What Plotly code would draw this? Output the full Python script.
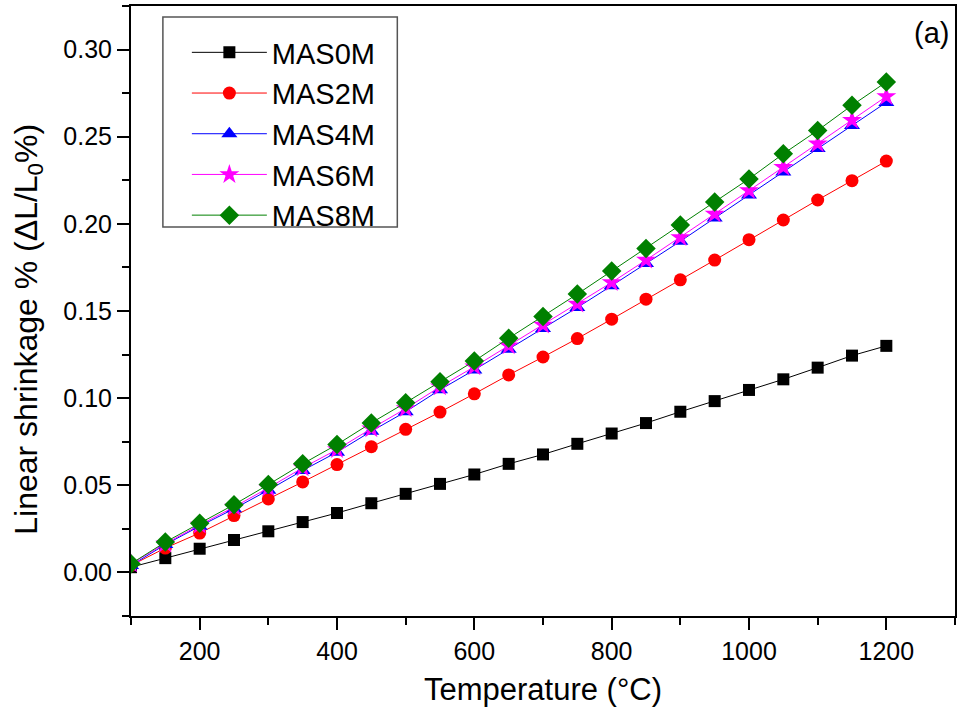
import plotly.graph_objects as go

temperature = [100, 150, 200, 250, 300, 350, 400, 450, 500, 550, 600, 650,
               700, 750, 800, 850, 900, 950, 1000, 1050, 1100, 1150, 1200]

mas0m = [0.003, 0.0082, 0.0136, 0.0186, 0.0236, 0.0289, 0.0341, 0.0397, 0.0451, 0.0508,
         0.0562, 0.0623, 0.0677, 0.0738, 0.0797, 0.0857, 0.0922, 0.0983, 0.1047, 0.1108,
         0.1175, 0.1244, 0.1300]
mas2m = [0.004, 0.0140, 0.0226, 0.0326, 0.0422, 0.0519, 0.0619, 0.0721, 0.0821, 0.0920,
         0.1025, 0.1133, 0.1236, 0.1342, 0.1453, 0.1568, 0.1679, 0.1792, 0.1909, 0.2022,
         0.2137, 0.2248, 0.2360]
mas4m = [0.004, 0.0160, 0.0265, 0.0365, 0.0472, 0.0585, 0.0690, 0.0810, 0.0922, 0.1048,
         0.1162, 0.1280, 0.1400, 0.1520, 0.1645, 0.1772, 0.1900, 0.2033, 0.2165, 0.2298,
         0.2432, 0.2565, 0.2697]
mas6m = [0.005, 0.0165, 0.0272, 0.0375, 0.0485, 0.0600, 0.0705, 0.0825, 0.0940, 0.1065,
         0.1180, 0.1300, 0.1420, 0.1540, 0.1664, 0.1792, 0.1922, 0.2057, 0.2191, 0.2325,
         0.2459, 0.2594, 0.2731]
mas8m = [0.005, 0.0174, 0.0282, 0.0389, 0.0504, 0.0623, 0.0734, 0.0858, 0.0974, 0.1094,
         0.1213, 0.1344, 0.1468, 0.1597, 0.1729, 0.1859, 0.1994, 0.2126, 0.2258, 0.2402,
         0.2536, 0.2680, 0.2814]

series_names = ["MAS0M", "MAS2M", "MAS4M", "MAS6M", "MAS8M"]
series_values = [mas0m, mas2m, mas4m, mas6m, mas8m]
colors = ["#000000", "#FF0000", "#0000FF", "#FF00FF", "#008000"]
symbols = ["square", "circle", "triangle-up", "star", "diamond"]
sizes = [12, 13, 14, 15, 15]

FONT = "Arial, 'Liberation Sans', sans-serif"

fig = go.Figure()
for name, vals, c, s, sz in zip(series_names, series_values, colors, symbols, sizes):
    fig.add_trace(go.Scatter(
        x=temperature, y=vals, name=name, mode="lines+markers",
        line=dict(color=c, width=1),
        marker=dict(symbol=s, size=sz, color=c, line=dict(width=0)),
    ))

axis_common = dict(
    showline=True, linewidth=2, linecolor="black", mirror=True,
    ticks="outside", ticklen=12, tickwidth=2, tickcolor="black",
    showgrid=False, zeroline=False,
    tickfont=dict(family=FONT, size=25, color="black"),
)

fig.update_xaxes(
    range=[100, 1300], dtick=200, tick0=0,
    minor=dict(dtick=100, ticks="outside", ticklen=7, tickwidth=2, tickcolor="black"),
    title=dict(text="Temperature (°C)", font=dict(family=FONT, size=31, color="black"), standoff=14),
    **axis_common,
)
fig.update_yaxes(
    range=[-0.025, 0.325], dtick=0.05, tick0=0, tickformat=".2f",
    minor=dict(dtick=0.025, ticks="outside", ticklen=7, tickwidth=2, tickcolor="black"),
    **axis_common,
)

# y-axis title
fig.add_annotation(
    text="Linear shrinkage % (ΔL/L<sub>0</sub>%)", xref="paper", yref="paper",
    x=-0.1247, y=0.4697, xanchor="center", yanchor="middle", textangle=-90,
    showarrow=False, font=dict(family=FONT, size=32, color="black"),
)

fig.add_annotation(
    text="(a)", xref="paper", yref="paper", x=0.995, y=0.985,
    xanchor="right", yanchor="top", showarrow=False,
    font=dict(family=FONT, size=29, color="black"),
)

# legend frame
fig.add_shape(
    type="rect", xref="paper", yref="paper",
    x0=0.0387, x1=0.3232, y0=0.6377, y1=0.982,
    line=dict(color="#555555", width=1.5), fillcolor="white", layer="above",
)

fig.update_layout(
    width=958, height=720,
    margin=dict(l=131, r=1, t=6, b=104),
    paper_bgcolor="white", plot_bgcolor="white",
    showlegend=True,
    legend=dict(
        x=0.0678, y=0.9656, xanchor="left", yanchor="top",
        bgcolor="rgba(0,0,0,0)", borderwidth=0,
        font=dict(family=FONT, size=29, color="black"),
        itemwidth=75, tracegroupgap=0,
    ),
)

fig.write_html("out.html")
